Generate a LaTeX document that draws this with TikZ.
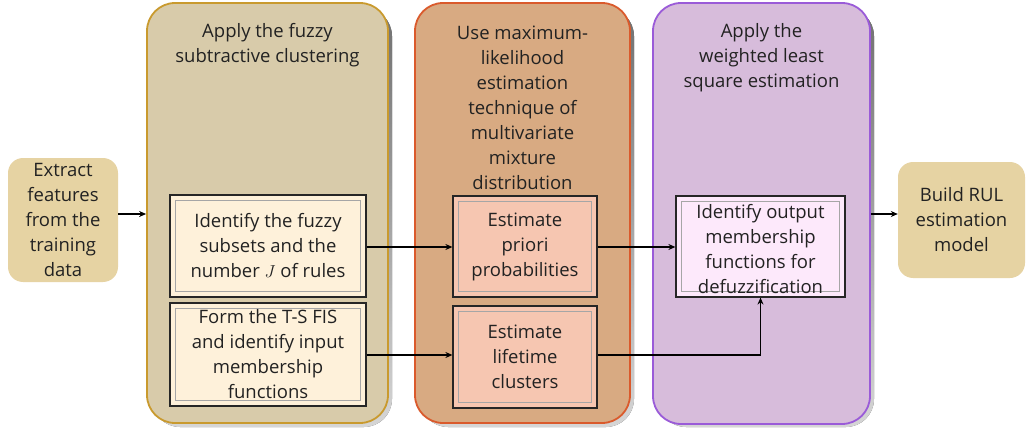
\documentclass[tikz,border=0pt]{standalone}
\usepackage{fontspec}
\setmainfont{Open Sans}
\usetikzlibrary{arrows.meta,positioning,calc}
\definecolor{txt}{HTML}{222222}
\definecolor{pOneFill}{HTML}{D8CBAA}
\definecolor{pOneLine}{HTML}{C99A2E}
\definecolor{pTwoFill}{HTML}{D8AA82}
\definecolor{pTwoLine}{HTML}{DA5A2C}
\definecolor{pThreeFill}{HTML}{D7BCDB}
\definecolor{pThreeLine}{HTML}{9A5BD8}
\definecolor{bOneFill}{HTML}{FEF1DA}
\definecolor{bTwoFill}{HTML}{F6C6B1}
\definecolor{bThreeFill}{HTML}{FDE9FB}
\definecolor{parch}{HTML}{E6D3A3}
\definecolor{shade}{HTML}{6E6A62}
\tikzset{
  every node/.style={font=\fontsize{18.5}{25}\selectfont, text=txt, inner sep=0pt},
  panel/.style={rounded corners=28pt, line width=1.8pt, minimum width=#1},
  parchbox/.style={rounded corners=15pt, fill=parch, draw=none, align=center},
  innerbox/.style={draw=black!85, line width=1.2pt, align=center},
  ttl/.style={align=center},
  arr/.style={-{Stealth[length=7pt,width=6pt]}, line width=1.3pt, black},
}
\begin{document}
\begin{tikzpicture}[x=1pt,y=-1pt]
\useasboundingbox (0,0) rectangle (1026,428);
% shadows
\fill[shade, rounded corners=28pt, opacity=0.8] (152,8) rectangle (392,427);
\fill[shade, rounded corners=28pt, opacity=0.8] (420,8) rectangle (634,427);
\fill[shade, rounded corners=28pt, opacity=0.8] (658,8) rectangle (874,427);
% panels
\node[panel=241pt, minimum height=420pt, fill=pOneFill, draw=pOneLine] (p1) at (267.5,213) {};
\node[panel=215pt, minimum height=420pt, fill=pTwoFill, draw=pTwoLine] (p2) at (522.5,213) {};
\node[panel=217pt, minimum height=421pt, fill=pThreeFill, draw=pThreeLine] (p3) at (761.5,213.5) {};
% titles
\node[ttl] (t1) at (267.5,45.5) {Apply the fuzzy\\subtractive clustering};
\node[ttl] (t2) at (522.5,108) {Use maximum-\\likelihood\\estimation\\technique of\\multivariate\\mixture\\distribution};
\node[ttl] (t3) at (761.5,57.5) {Apply the\\weighted least\\square estimation};
% outer boxes
\node[parchbox, minimum width=110pt, minimum height=124pt] (ext) at (63,220) {Extract\\features\\from the\\training\\data};
\node[parchbox, minimum width=127pt, minimum height=116pt] (rul) at (961.5,220) {Build RUL\\estimation\\model};
% inner boxes
\node[innerbox, fill=bOneFill, minimum width=196pt, minimum height=102pt] (b1) at (268,246) {};
\draw[black!35, line width=0.8pt] ($(b1.north west)+(6,6)$) rectangle ($(b1.south east)+(-6,-6)$);
\node[align=center] (b1t) at (b1.center) {Identify the fuzzy\\subsets and the\\number $J$ of rules};
\node[innerbox, fill=bOneFill, minimum width=196pt, minimum height=103pt] (b2) at (268,354.5) {};
\draw[black!35, line width=0.8pt] ($(b2.north west)+(6,6)$) rectangle ($(b2.south east)+(-6,-6)$);
\node[align=center] (b2t) at (b2.center) {Form the T-S FIS\\and identify input\\membership\\functions};
\node[innerbox, fill=bTwoFill, minimum width=144pt, minimum height=101pt] (b3) at (525,246.5) {};
\draw[black!35, line width=0.8pt] ($(b3.north west)+(6,6)$) rectangle ($(b3.south east)+(-6,-6)$);
\node[align=center] (b3t) at (b3.center) {Estimate\\priori\\probabilities};
\node[innerbox, fill=bTwoFill, minimum width=144pt, minimum height=102pt] (b4) at (525,357) {};
\draw[black!35, line width=0.8pt] ($(b4.north west)+(6,6)$) rectangle ($(b4.south east)+(-6,-6)$);
\node[align=center] (b4t) at (b4.center) {Estimate\\lifetime\\clusters};
\node[innerbox, fill=bThreeFill, minimum width=169pt, minimum height=101pt] (b5) at (760.5,246.5) {};
\draw[black!35, line width=0.8pt] ($(b5.north west)+(6,6)$) rectangle ($(b5.south east)+(-6,-6)$);
\node[align=center] (b5t) at (760.5,249.5) {Identify output\\membership\\functions for\\defuzzification};
% arrows
\draw[arr] (ext.east |- 0,214) -- (p1.west |- 0,214);
\draw[arr] (b1.east |- 0,247) -- (b3.west |- 0,247);
\draw[arr] (b2.east |- 0,355) -- (b4.west |- 0,355);
\draw[arr] (b3.east |- 0,247) -- (b5.west |- 0,247);
\draw[arr] (b4.east |- 0,355) -| (b5.south);
\draw[arr] (p3.east |- 0,214) -- (rul.west |- 0,214);
\end{tikzpicture}
\end{document}
